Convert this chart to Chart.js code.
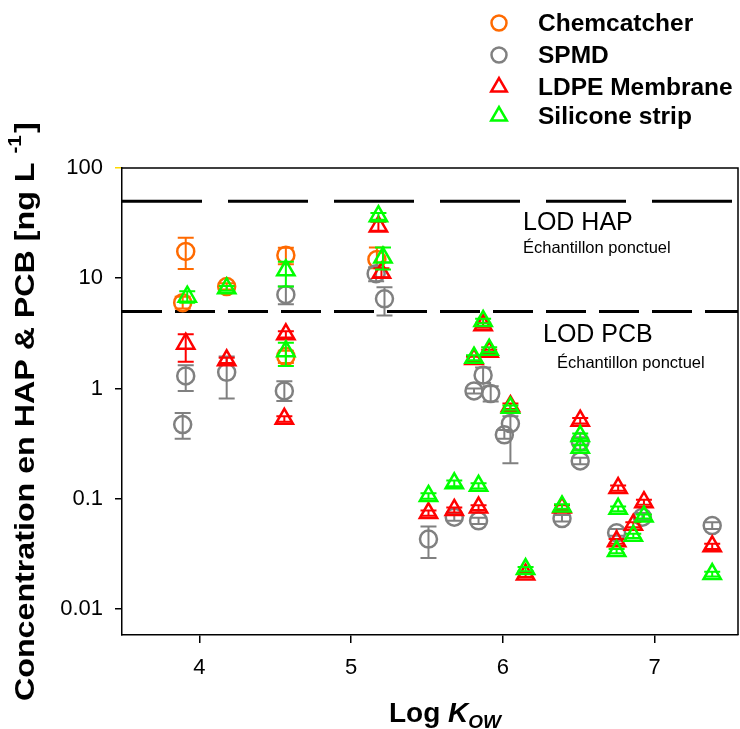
<!DOCTYPE html>
<html>
<head>
<meta charset="utf-8">
<script src="https://cdn.jsdelivr.net/npm/chart.js@4/dist/chart.umd.min.js"></script>
<style>
  body { margin: 0; background: #fff; }
  canvas { display: block; }
</style>
</head>
<body>
<canvas id="chart" width="740" height="729"></canvas>
<script>
const seriesNames = ["Chemcatcher", "SPMD", "LDPE Membrane", "Silicone strip"];

// Chemcatcher
const chemX  = [3.91, 3.89, 4.18, 4.57, 4.57, 5.17];
const chemY  = [17.5, 6.0, 8.4, 16.2, 1.95, 14.8];
const chemLo = [12.1, 5.3, 7.9, 13.4, 1.7, 12.3];
const chemHi = [23.3, 6.8, 9.0, 18.9, 2.2, 19.0];

// SPMD
const spmdX  = [3.91, 3.89, 4.18, 4.57, 4.56, 5.165, 5.22, 5.51, 5.68, 5.84, 5.81, 5.87, 5.92, 6.05, 6.01, 6.39, 6.51, 6.51, 6.75, 6.92, 7.38];
const spmdY  = [1.30, 0.47, 1.40, 7.1, 0.95, 11.0, 6.5, 0.043, 0.068, 0.063, 0.95, 1.32, 0.90, 0.48, 0.38, 0.066, 0.33, 0.22, 0.049, 0.068, 0.057];
const spmdLo = [0.95, 0.35, 0.81, 5.8, 0.77, 9.4, 4.6, 0.029, 0.063, 0.059, 0.90, 1.12, 0.76, 0.21, 0.35, 0.062, 0.31, 0.205, 0.046, 0.064, 0.053];
const spmdHi = [1.62, 0.60, 1.95, 8.4, 1.16, 12.6, 8.3, 0.056, 0.073, 0.067, 1.00, 1.55, 1.05, 0.56, 0.42, 0.071, 0.36, 0.235, 0.053, 0.074, 0.061];

// LDPE Membrane
const ldpeX  = [3.91, 4.18, 4.57, 4.56, 5.18, 5.2, 5.51, 5.68, 5.84, 5.81, 5.87, 5.91, 6.05, 6.15, 6.39, 6.51, 6.76, 6.75, 6.86, 6.93, 7.38];
const ldpeY  = [2.55, 1.8, 3.1, 0.53, 29.5, 11.2, 0.074, 0.079, 0.083, 1.85, 3.75, 2.15, 0.69, 0.0205, 0.083, 0.51, 0.125, 0.041, 0.058, 0.093, 0.037];
const ldpeLo = [1.75, 1.7, 2.9, 0.5, 27, 10.2, 0.07, 0.075, 0.079, 1.76, 3.55, 2.05, 0.65, 0.0195, 0.079, 0.48, 0.118, 0.039, 0.055, 0.088, 0.035];
const ldpeHi = [3.1, 1.9, 3.3, 0.56, 32.5, 12.3, 0.078, 0.083, 0.087, 1.94, 3.95, 2.25, 0.73, 0.0215, 0.087, 0.54, 0.132, 0.043, 0.061, 0.098, 0.039];

// Silicone strip
const siliX  = [3.92, 4.18, 4.57, 4.57, 5.18, 5.21, 5.51, 5.68, 5.84, 5.81, 5.87, 5.91, 6.05, 6.15, 6.39, 6.51, 6.51, 6.76, 6.75, 6.86, 6.93, 7.38];
const siliY  = [6.8, 8.1, 11.8, 2.18, 36.5, 15.4, 0.106, 0.138, 0.131, 1.9, 4.1, 2.25, 0.67, 0.023, 0.085, 0.37, 0.29, 0.081, 0.0335, 0.046, 0.069, 0.0207];
const siliLo = [6.0, 7.7, 8.4, 1.6, 34, 12, 0.1, 0.13, 0.124, 1.8, 3.9, 2.14, 0.64, 0.022, 0.081, 0.35, 0.275, 0.077, 0.032, 0.044, 0.066, 0.0197];
const siliHi = [7.6, 8.5, 14.1, 2.6, 39, 19, 0.112, 0.146, 0.138, 2.0, 4.3, 2.36, 0.70, 0.024, 0.089, 0.39, 0.305, 0.085, 0.035, 0.048, 0.072, 0.0217];

const xTicks = [4, 5, 6, 7];
const yTicks = [0.01, 0.1, 1, 10, 100];
const yTickLabels = ["0.01", "0.1", "1", "10", "100"];

const lodHap = 50;
const lodPcb = 5;

const FONT = "'Liberation Sans', Arial, sans-serif";
const xMin = 3.49, xMax = 7.55;

function points(xs, ys, lo, hi) {
  return xs.map((x, i) => ({ x: x, y: ys[i], lo: lo[i], hi: hi[i] }));
}

function marker(name, color, style, radius, pts, order) {
  return {
    type: "scatter",
    label: name,
    data: pts,
    pointStyle: style,
    pointRadius: radius,
    pointBorderWidth: 2.5,
    borderColor: color,
    backgroundColor: "rgba(0,0,0,0)",
    order: order
  };
}

function lodLine(value, dash) {
  return {
    type: "line",
    label: "",
    data: [{ x: xMin, y: value }, { x: xMax, y: value }],
    borderColor: "#000",
    borderWidth: 3,
    borderDash: dash,
    pointRadius: 0,
    order: 10
  };
}

const colors = ["#ff6a00", "#808080", "#ff0000", "#00ff00"];
const styles = ["circle", "circle", "triangle", "triangle"];

// error bars, drawn right after each dataset
const errorBars = {
  id: "errorBars",
  afterDatasetDraw(chart, args) {
    const ds = chart.data.datasets[args.index];
    if (ds.type !== "scatter") return;
    const ctx = chart.ctx;
    const xs = chart.scales.x, ys = chart.scales.y;
    ctx.save();
    ctx.strokeStyle = ds.borderColor;
    ctx.lineWidth = 2;
    ds.data.forEach(p => {
      if (p.lo == null) return;
      const px = xs.getPixelForValue(p.x);
      const top = ys.getPixelForValue(p.hi);
      const bot = ys.getPixelForValue(p.lo);
      ctx.beginPath();
      ctx.moveTo(px, top); ctx.lineTo(px, bot);
      ctx.moveTo(px - 8, top); ctx.lineTo(px + 8, top);
      ctx.moveTo(px - 8, bot); ctx.lineTo(px + 8, bot);
      ctx.stroke();
    });
    ctx.restore();
  }
};

const decorations = {
  id: "decorations",
  afterDraw(chart) {
    const ctx = chart.ctx;
    const a = chart.chartArea;
    ctx.save();

    // frame top & right
    ctx.strokeStyle = "#000";
    ctx.lineWidth = 1.5;
    ctx.beginPath();
    ctx.moveTo(a.left, a.top); ctx.lineTo(a.right, a.top); ctx.lineTo(a.right, a.bottom);
    ctx.stroke();

    // LOD labels
    ctx.fillStyle = "#000";
    ctx.textAlign = "left";
    ctx.textBaseline = "alphabetic";
    ctx.font = "25px " + FONT;
    ctx.fillText("LOD HAP", 523, 230);
    ctx.fillText("LOD PCB", 543, 342);
    ctx.font = "16.5px " + FONT;
    ctx.fillText("Échantillon ponctuel", 523, 253);
    ctx.fillText("Échantillon ponctuel", 557, 368);

    // legend
    const rows = [23, 55, 87, 116];
    seriesNames.forEach((name, i) => {
      const y = rows[i];
      ctx.strokeStyle = colors[i];
      ctx.lineWidth = 2.5;
      ctx.beginPath();
      if (styles[i] === "circle") {
        ctx.arc(499, y, 7.5, 0, Math.PI * 2);
      } else {
        const r = 9, cx = 499;
        ctx.moveTo(cx, y - r);
        ctx.lineTo(cx + r * Math.sin(2 * Math.PI / 3), y + r / 2);
        ctx.lineTo(cx - r * Math.sin(2 * Math.PI / 3), y + r / 2);
        ctx.closePath();
      }
      ctx.stroke();
      ctx.fillStyle = "#000";
      ctx.font = "bold 24.5px " + FONT;
      ctx.textBaseline = "middle";
      ctx.fillText(name, 538, y + 1);
    });

    // y title
    ctx.textBaseline = "alphabetic";
    ctx.translate(34, 701);
    ctx.rotate(-Math.PI / 2);
    ctx.scale(1.15, 1);
    ctx.font = "bold 28px " + FONT;
    const main = "Concentration en HAP & PCB [ng L";
    ctx.fillText(main, 0, 0);
    let w = ctx.measureText(main + " ").width;
    ctx.font = "bold 18px " + FONT;
    ctx.fillText("-1", w, -13);
    w += ctx.measureText("-1").width + 2;
    ctx.font = "bold 28px " + FONT;
    ctx.fillText("]", w, 0);
    ctx.restore();

    // x title
    ctx.save();
    ctx.fillStyle = "#000";
    ctx.textAlign = "left";
    ctx.font = "bold 28px " + FONT;
    let x = 389;
    ctx.fillText("Log ", x, 722);
    x += ctx.measureText("Log ").width;
    ctx.font = "italic bold 28px " + FONT;
    ctx.fillText("K", x, 722);
    x += ctx.measureText("K").width;
    ctx.font = "italic bold 19px " + FONT;
    ctx.fillText("OW", x, 728);
    ctx.restore();
  }
};

const datasets = [
  marker(seriesNames[0], colors[0], "circle", 8.5, points(chemX, chemY, chemLo, chemHi), 4),
  marker(seriesNames[1], colors[1], "circle", 8.5, points(spmdX, spmdY, spmdLo, spmdHi), 3),
  marker(seriesNames[2], colors[2], "triangle", 10, points(ldpeX, ldpeY, ldpeLo, ldpeHi), 2),
  marker(seriesNames[3], colors[3], "triangle", 10, points(siliX, siliY, siliLo, siliHi), 1),
  lodLine(lodHap, [80, 26]),
  lodLine(lodPcb, [40, 13])
];

new Chart(document.getElementById("chart"), {
  type: "scatter",
  data: { datasets: datasets },
  options: {
    responsive: false,
    animation: false,
    devicePixelRatio: 1,
    layout: { autoPadding: false, padding: { left: 0, right: 2, top: 168, bottom: 0 } },
    plugins: { legend: { display: false }, tooltip: { enabled: false } },
    scales: {
      x: {
        type: "linear",
        min: xMin,
        max: xMax,
        afterBuildTicks: s => { s.ticks = xTicks.map(v => ({ value: v })); },
        afterFit: s => { s.height = 94; s.paddingLeft = 0; s.paddingRight = 0; },
        grid: { drawOnChartArea: false, tickLength: 8, color: "#000", lineWidth: 1.5 },
        border: { color: "#000", width: 1.5 },
        ticks: { color: "#000", font: { family: FONT, size: 22 }, padding: 12, callback: v => String(v) }
      },
      y: {
        type: "logarithmic",
        min: 0.0058,
        max: 100,
        afterBuildTicks: s => { s.ticks = yTicks.map(v => ({ value: v })); },
        afterFit: s => { s.width = 122; s.paddingTop = 0; s.paddingBottom = 0; },
        grid: {
          drawOnChartArea: false,
          tickLength: 7,
          lineWidth: 1.5,
          color: c => (c.tick && c.tick.value === 100 ? "#ffd800" : "#000")
        },
        border: { color: "#000", width: 1.5 },
        ticks: {
          color: "#000",
          font: { family: FONT, size: 22 },
          padding: 12,
          callback: v => yTickLabels[yTicks.indexOf(v)]
        }
      }
    }
  },
  plugins: [errorBars, decorations]
});
</script>
</body>
</html>
